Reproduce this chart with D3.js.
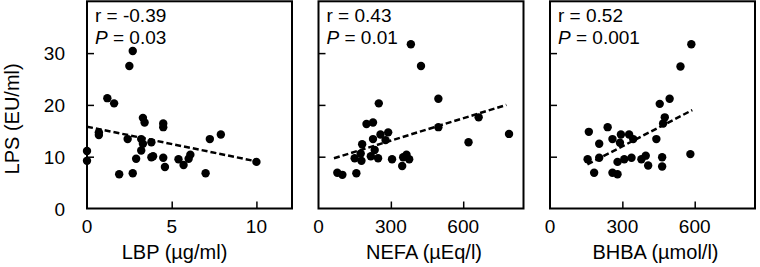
<!DOCTYPE html>
<html>
<head>
<meta charset="utf-8">
<script src="https://cdn.jsdelivr.net/npm/d3@7"></script>
<style>
  body { margin: 0; background: #fff; }
  svg { display: block; }
  text { font-family: "Liberation Sans", Arial, sans-serif; fill: #000; }
</style>
</head>
<body>
<svg id="chart" width="760" height="267"></svg>
<script>
// LPS (EU/ml) against each blood marker
const lbp  = [0.0, 0.0, 0.7, 0.7, 1.2, 1.6, 1.9, 2.4, 2.5, 2.7, 2.7, 2.9, 3.2, 3.2, 3.3, 3.3, 3.4, 3.8, 3.8, 3.9, 4.5, 4.5, 4.5, 4.6, 5.4, 5.7, 6.0, 6.1, 7.0, 7.25, 7.9, 10.0];
const lpsA = [11.1, 9.2, 14.7, 14.2, 21.3, 20.3, 6.6, 13.4, 27.5, 30.4, 6.8, 9.6, 13.4, 11.2, 12.5, 17.5, 16.6, 12.8, 9.9, 10.1, 15.7, 16.4, 9.8, 8.0, 9.5, 8.4, 9.6, 10.4, 6.8, 13.4, 14.3, 9.0];

const nefa = [78, 99, 157, 150, 178, 175, 181, 199, 226, 217, 233, 226, 247, 250, 257, 278, 289, 305, 347, 351, 365, 376, 383, 425, 497, 497, 622, 664, 790];
const lpsB = [6.9, 6.5, 6.8, 9.7, 9.2, 10.6, 12.4, 16.3, 16.6, 10.1, 11.3, 13.4, 9.7, 20.3, 14.3, 13.2, 14.7, 9.5, 8.2, 9.9, 10.4, 9.5, 31.7, 27.5, 21.2, 15.7, 12.8, 17.6, 14.4];

const bhba = [161, 239, 204, 259, 294, 328, 290, 345, 156, 204, 183, 259, 280, 280, 308, 338, 379, 397, 407, 441, 465, 465, 455, 476, 469, 496, 541, 586, 582];
const lpsC = [14.8, 15.7, 12.5, 13.4, 14.3, 14.3, 12.7, 13.4, 9.5, 9.8, 6.9, 6.9, 6.6, 9.0, 9.5, 9.8, 9.5, 10.2, 8.3, 13.4, 9.9, 8.1, 20.2, 17.6, 16.4, 21.2, 27.4, 31.7, 10.5];

// dashed fit lines, end points
const trendLbp  = [[0, 15.8], [10, 9.1]];
const trendNefa = [[64, 9.7], [779, 20.0]];
const trendBhba = [[155, 8.5], [590, 19.0]];

const rValues = ["-0.39", "0.43", "0.52"];
const pValues = ["0.03", "0.01", "0.001"];
const xTitles = ["LBP (\u00b5g/ml)", "NEFA (\u00b5Eq/l)", "BHBA (\u00b5mol/l)"];
const xTicksA = [0, 5, 10];
const xTicksB = [0, 300, 600];
const yTicks  = [0, 10, 20, 30];

const panels = [
  { xs: lbp,  ys: lpsA, trend: trendLbp,  ticks: xTicksA, max: 12.1, left: 87,    titleShift: -15 },
  { xs: nefa, ys: lpsB, trend: trendNefa, ticks: xTicksB, max: 850,  left: 318.5, titleShift: 3 },
  { xs: bhba, ys: lpsC, trend: trendBhba, ticks: xTicksB, max: 850,  left: 550,   titleShift: 3 }
];

const svg = d3.select("#chart");
const pw = 205;
const plotTop = 1.3, plotBottom = 208.5;
const y = d3.scaleLinear().domain([0, 40]).range([plotBottom, plotTop]);

panels.forEach((p, i) => {
  const x = d3.scaleLinear().domain([0, p.max]).range([p.left, p.left + pw]);
  const g = svg.append("g");

  // inward ticks, labels drawn separately
  g.append("g")
    .attr("transform", `translate(0,${plotBottom})`)
    .call(d3.axisTop(x).tickValues(p.ticks.filter(t => t > 0)).tickSize(7).tickFormat(""))
    .call(a => a.select(".domain").remove())
    .selectAll("line").attr("stroke", "#000").attr("stroke-width", 1.5);

  g.append("g")
    .attr("transform", `translate(${p.left},0)`)
    .call(d3.axisRight(y).tickValues(yTicks.filter(t => t > 0)).tickSize(7).tickFormat(""))
    .call(a => a.select(".domain").remove())
    .selectAll("line").attr("stroke", "#000").attr("stroke-width", 1.5);

  g.selectAll(".xl").data(p.ticks).enter().append("text")
    .attr("x", d => x(d)).attr("y", 233)
    .attr("text-anchor", "middle").attr("font-size", 19)
    .text(d => d);

  g.append("text")
    .attr("x", p.left + pw / 2 + p.titleShift).attr("y", 259)
    .attr("text-anchor", "middle").attr("font-size", 20)
    .text(xTitles[i]);

  if (i === 0) {
    g.selectAll(".yl").data(yTicks).enter().append("text")
      .attr("x", 65).attr("y", d => y(d)).attr("dy", "0.38em")
      .attr("text-anchor", "end").attr("font-size", 19)
      .text(d => d);
    g.append("text")
      .attr("transform", `translate(19,${(plotTop + plotBottom) / 2 + 14}) rotate(-90)`)
      .attr("text-anchor", "middle").attr("font-size", 20)
      .text("LPS (EU/ml)");
  }

  g.append("path")
    .datum(p.trend)
    .attr("d", d3.line().x(d => x(d[0])).y(d => y(d[1])))
    .attr("fill", "none").attr("stroke", "#000")
    .attr("stroke-width", 2.5).attr("stroke-dasharray", "6,3");

  g.selectAll("circle").data(p.xs).enter().append("circle")
    .attr("cx", d => x(d)).attr("cy", (d, j) => y(p.ys[j]))
    .attr("r", 4.2).attr("fill", "#000");

  g.append("text")
    .attr("x", p.left + 8).attr("y", 22).attr("font-size", 19)
    .text("r = " + rValues[i]);
  const pt = g.append("text")
    .attr("x", p.left + 8).attr("y", 43.5).attr("font-size", 19);
  pt.append("tspan").attr("font-style", "italic").text("P");
  pt.append("tspan").text(" = " + pValues[i]);

  g.append("rect")
    .attr("x", p.left).attr("y", plotTop)
    .attr("width", pw).attr("height", plotBottom - plotTop)
    .attr("fill", "none").attr("stroke", "#000").attr("stroke-width", 2);
});
</script>
</body>
</html>
